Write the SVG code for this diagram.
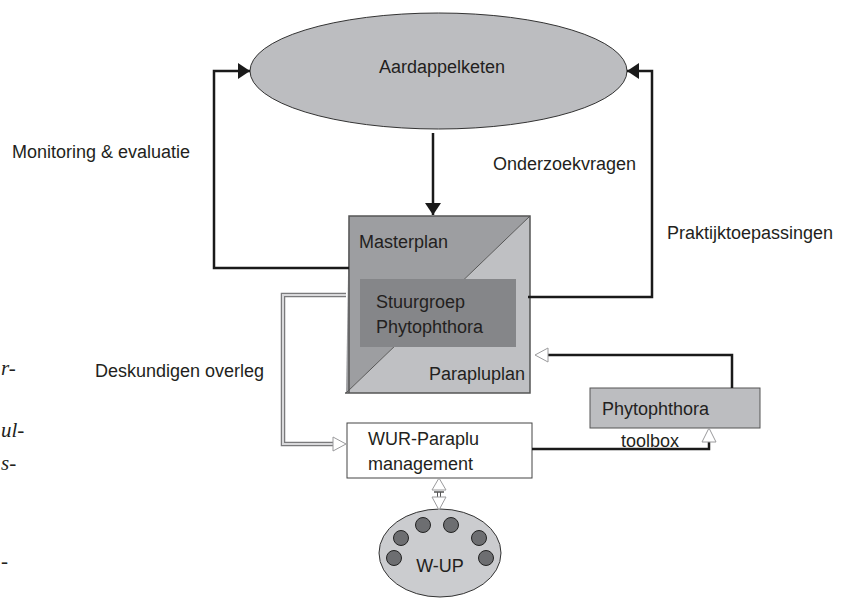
<svg xmlns="http://www.w3.org/2000/svg" width="842" height="598" viewBox="0 0 842 598">
<style>
text{font-family:"Liberation Sans",Arial,sans-serif;font-size:18px;fill:#231f20}
.it{font-family:"Liberation Serif","Times New Roman",serif;font-style:italic;font-size:21px}
.ln{fill:none;stroke:#1a1a1a;stroke-width:2.5}
.hollowOut{fill:none;stroke:#7a7a7c;stroke-width:4.5}
.hollowIn{fill:none;stroke:#d9d9db;stroke-width:2}
.open{fill:#fff;stroke:#9a9a9c;stroke-width:1}
</style>
<defs>
<marker id="fa" markerUnits="userSpaceOnUse" markerWidth="13" markerHeight="16" refX="12" refY="8" orient="auto">
<path d="M0,0 L12,8 L0,16 z" fill="#1a1a1a"/>
</marker>
</defs>
<rect width="842" height="598" fill="#fff"/>

<g id="margin-text">
<text class="it" x="1" y="375">r-</text>
<text class="it" x="1" y="437">ul-</text>
<text class="it" x="1" y="470">s-</text>
<text class="it" x="1" y="568">-</text>
</g>

<g id="aardappelketen">
<ellipse cx="438.5" cy="71" rx="188.5" ry="58" fill="#bcbdc0" stroke="#333" stroke-width="1"/>
<text x="442" y="73" text-anchor="middle">Aardappelketen</text>
</g>

<g id="plan">
<polygon points="349,216 530,216 346,393" fill="#9d9ea1"/>
<polygon points="530,216 530,393 346,393" fill="#bfc0c3"/>
<line x1="530" y1="216" x2="346" y2="393" stroke="#555" stroke-width="1"/>
<polyline points="349,393 349,216 530,216 530,393 345,393" fill="none" stroke="#555" stroke-width="1.5"/>
<rect x="360" y="279" width="156" height="68" fill="#858689"/>
<text x="359" y="248">Masterplan</text>
<text x="376" y="308">Stuurgroep</text>
<text x="376" y="333">Phytophthora</text>
<text x="429" y="380">Parapluplan</text>
</g>

<g id="wur">
<rect x="347" y="423" width="185" height="55" fill="#fff" stroke="#444" stroke-width="1"/>
<text x="368" y="445">WUR-Paraplu</text>
<text x="368" y="470">management</text>
</g>

<g id="toolbox">
<rect x="590" y="388" width="170" height="40" fill="#bcbdc0" stroke="#555" stroke-width="1"/>
<text x="602" y="415">Phytophthora</text>
<text x="621" y="447">toolbox</text>
</g>

<g id="wup">
<ellipse cx="440" cy="553" rx="61" ry="44" fill="#cbcccf" stroke="#333" stroke-width="1"/>
<g fill="#6d6e71" stroke="#222" stroke-width="1">
<circle cx="423" cy="525" r="7.5"/>
<circle cx="451" cy="525" r="7.5"/>
<circle cx="401" cy="538" r="7.5"/>
<circle cx="479" cy="538" r="7.5"/>
<circle cx="394" cy="558" r="7.5"/>
<circle cx="486" cy="558" r="7.5"/>
</g>
<text x="440" y="572" text-anchor="middle">W-UP</text>
</g>

<g id="labels">
<text x="12" y="158">Monitoring &amp; evaluatie</text>
<text x="493" y="170">Onderzoekvragen</text>
<text x="667" y="239">Praktijktoepassingen</text>
<text x="95" y="377">Deskundigen overleg</text>
</g>

<g id="connectors">
<polyline class="ln" points="349,268 214,268 214,71 250,71" marker-end="url(#fa)"/>
<polyline class="ln" points="528,297 652,297 652,71 627,71" marker-end="url(#fa)"/>
<line class="ln" x1="433" y1="133" x2="433" y2="215" marker-end="url(#fa)"/>
<polyline class="ln" points="732,388 732,355 548,355" stroke-width="3"/>
<polygon class="open" points="548,348 535,355 548,362"/>
<polyline class="ln" points="532,449 709,449 709,442" stroke-width="3"/>
<polygon class="open" points="702,442 709,428 716,442" stroke="#555"/>
<polyline class="hollowOut" points="346,295 283,295 283,444 333,444"/>
<polyline class="hollowIn" points="346,295 283,295 283,444 333,444"/>
<polygon class="open" points="333,437 346,444 333,451"/>
<polygon class="open" points="432,490 439,478 446,490"/>
<line x1="434" y1="492" x2="444" y2="492" stroke="#555" stroke-width="1.5"/>
<line x1="437.5" y1="492" x2="437.5" y2="497" stroke="#555" stroke-width="1"/>
<line x1="440.5" y1="492" x2="440.5" y2="497" stroke="#555" stroke-width="1"/>
<polygon class="open" points="432,497 439,510 446,497"/>
</g>
</svg>
